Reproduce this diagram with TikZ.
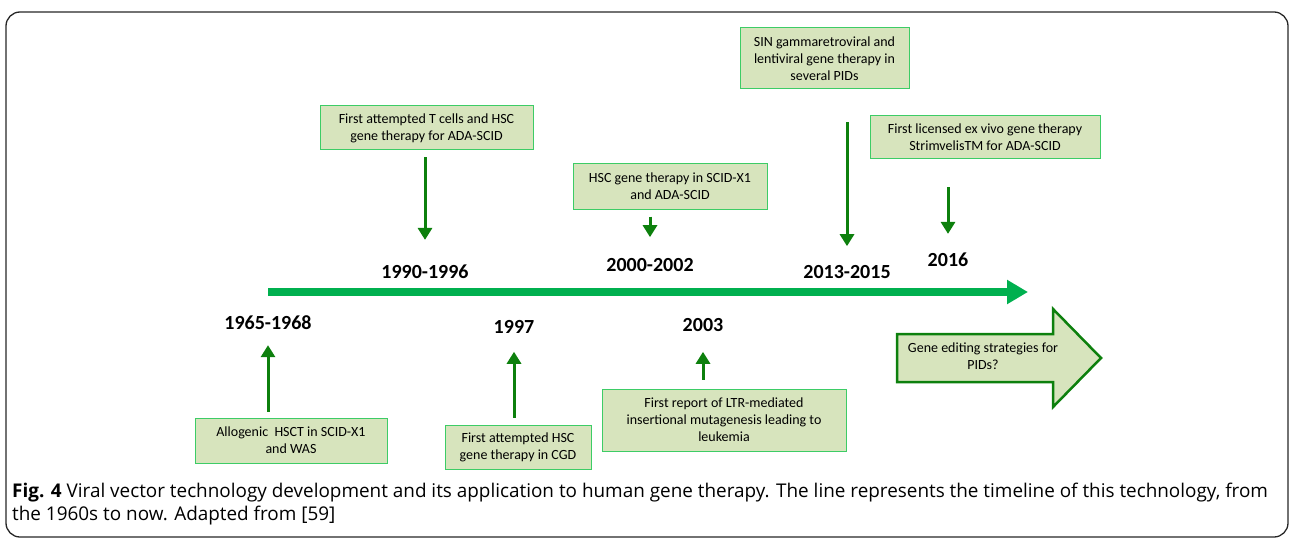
\documentclass[tikz,border=0pt]{standalone}
\usepackage{fontspec}
\usepackage{tikz}
\usetikzlibrary{calc}
\usetikzlibrary{arrows.meta}
\setmainfont{Carlito}
\newfontfamily\capfont{Open Sans}
\definecolor{qqaaww}{rgb}{0.,0.69,0.31}
\definecolor{qqxdqq}{rgb}{0.05,0.5,0.05}
\definecolor{ddeebb}{rgb}{0.843,0.894,0.741}
\definecolor{ttccww}{rgb}{0.24,0.8,0.4}
\tikzstyle{every node}=[font=\fontsize{14}{17}\selectfont]
\tikzstyle{evbox}=[draw=ttccww,fill=ddeebb,line width=1pt,align=center,inner sep=2pt]
\tikzstyle{year}=[font=\fontsize{20}{24}\selectfont\bfseries,inner sep=0pt]
\tikzstyle{evarrow}=[draw=qqxdqq,line width=3pt,-{Triangle[width=14pt,length=12pt]}]

\begin{document}
\begin{tikzpicture}[line cap=butt,line join=miter,x=1pt,y=1pt]
            \useasboundingbox (0,0) rectangle (1292,-540);
            \draw [line width=1.3pt,rounded corners=14pt,color=black!85] (6,-12) rectangle (1288,-537);
            \coordinate (tlS) at (268,-292);
            \coordinate (tlE) at (1028,-292);
            \draw [line width=8pt,color=qqaaww,-{Triangle[width=23pt,length=21pt]}] (tlS) -- (tlE);
            \node [evbox,minimum width=213pt,minimum height=44pt] (bx90) at (426.5,-128) {First attempted T cells and HSC\\gene therapy for ADA-SCID};
            \node [evbox,minimum width=194pt,minimum height=45pt] (bx00) at (670,-186.5) {HSC gene therapy in SCID-X1\\and ADA-SCID};
            \node [evbox,minimum width=169pt,minimum height=61pt] (bx13) at (824.5,-58.5) {SIN gammaretroviral and\\lentiviral gene therapy in\\several PIDs};
            \node [evbox,minimum width=230pt,minimum height=43pt] (bx16) at (985,-137.5) {First licensed ex vivo gene therapy\\StrimvelisTM for ADA-SCID};
            \node [evbox,minimum width=192pt,minimum height=45pt] (bx65) at (291,-440.5) {Allogenic\ \ HSCT in SCID-X1\\and WAS};
            \node [evbox,minimum width=146pt,minimum height=44pt] (bx97) at (518,-447) {First attempted HSC\\gene therapy in CGD};
            \node [evbox,minimum width=244pt,minimum height=62pt] (bx03) at (724,-420) {First report of LTR-mediated\\insertional mutagenesis leading to\\leukemia};
            \node [year] (yr90) at (425,-272) {1990-1996};
            \node [year] (yr00) at (650,-265) {2000-2002};
            \node [year] (yr13) at (847,-272) {2013-2015};
            \node [year] (yr16) at (948,-260) {2016};
            \node [year] (yr65) at (268,-323) {1965-1968};
            \node [year] (yr97) at (514,-327) {1997};
            \node [year] (yr03) at (703,-325) {2003};
            \foreach \b/\y/\s/\t in {bx90/yr90/7/25,bx00/yr00/7/21,bx13/yr13/33/19,bx16/yr16/28/19}
                \draw [evarrow,shorten <=\s pt,shorten >=\t pt] (\b.south -| \y) -- (\y);
            \foreach \b/\y/\s/\t in {bx65/yr65/6/15,bx97/yr97/7/18,bx03/yr03/9/20}
                \draw [evarrow,shorten <=\s pt,shorten >=\t pt] (\b.north -| \y) -- (\y);
            \draw [line width=2.5pt,color=qqxdqq,fill=ddeebb] (897,-334) -- (1053,-334) -- (1053,-309) -- (1101,-358) -- (1053,-407) -- (1053,-382) -- (897,-382) -- cycle;
            \node [align=center] (gene) at (983,-356) {Gene editing strategies for\\PIDs?};
            \node [anchor=west,inner sep=0pt,align=left,font=\capfont\fontsize{18.9}{23}\selectfont] (cap) at (12,-504) {\textbf{Fig. 4} Viral vector technology development and its application to human gene therapy. The line represents the timeline of this technology, from\\the 1960s to now. Adapted from [59]};
\end{tikzpicture}
\end{document}
